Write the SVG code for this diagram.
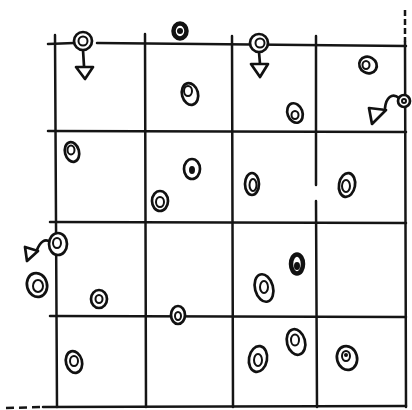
<svg xmlns="http://www.w3.org/2000/svg" width="412" height="410" viewBox="0 0 412 410">
<style>
.g{stroke:#151515;stroke-width:2.5;fill:none;stroke-linecap:round}
.d{stroke:#151515;stroke-width:2.5;fill:none;stroke-dasharray:8 5}
.o{stroke:#111;stroke-width:2.7;fill:#fff}
.i{stroke:#111;stroke-width:2;fill:none}
.k{stroke:#111;stroke-width:4.5;fill:#fff}
.a{stroke:#111;stroke-width:2.7;fill:#fff;stroke-linejoin:round}
.c{stroke:#111;stroke-width:2.7;fill:none;stroke-linecap:round}
</style>
<rect width="412" height="410" fill="#fff"/>
<g id="connectors">
<line class="g" x1="48" y1="44" x2="74" y2="43"/>
<line class="g" x1="97" y1="43" x2="406" y2="46"/>
<line class="g" x1="48" y1="131" x2="406" y2="132"/>
<line class="g" x1="50" y1="222" x2="406" y2="223"/>
<line class="g" x1="50" y1="316" x2="406" y2="317"/>
<line class="g" x1="43" y1="407" x2="406" y2="406"/>
<line class="d" x1="6" y1="408" x2="43" y2="407"/>
<line class="g" x1="55" y1="35" x2="57" y2="407"/>
<line class="g" x1="145" y1="34" x2="146" y2="407"/>
<line class="g" x1="232" y1="36" x2="233" y2="407"/>
<line class="g" x1="316" y1="36" x2="316" y2="185"/>
<line class="g" x1="316" y1="201" x2="317" y2="407"/>
<line class="g" x1="405" y1="42" x2="406" y2="407"/>
<line class="d" x1="405" y1="10" x2="405" y2="42" style="stroke-dasharray:6 3"/>
<line class="c" x1="83" y1="50" x2="84" y2="66"/>
<polygon class="a" points="76,67 93,67 85,79"/>
<line class="c" x1="259" y1="52" x2="260" y2="64"/>
<polygon class="a" points="251,64 268,64 260,77"/>
<path class="c" d="M385,108 C386,98 392,92 399,98"/>
<polygon class="a" points="369,108 372,124 386,110"/>
<path class="c" d="M37,250 C40,242 45,238 50,242"/>
<polygon class="a" points="25,247 27,261 38,251"/>
</g>
<g id="n1"><circle class="o" cx="83" cy="41" r="9"/><circle class="i" cx="83" cy="41" r="4.5"/></g>
<g id="n2"><ellipse class="k" cx="180" cy="31" rx="6.5" ry="7.5"/><circle cx="180" cy="31" r="3" fill="#111"/></g>
<g id="n3"><ellipse class="o" cx="190" cy="94" rx="8" ry="11" transform="rotate(-15 190 94)"/><ellipse class="i" cx="188" cy="91" rx="4" ry="5"/></g>
<g id="n4"><ellipse class="o" cx="72" cy="152" rx="7" ry="10" transform="rotate(-15 72 152)"/><ellipse class="i" cx="71" cy="150" rx="3.5" ry="4.5"/></g>
<g id="n5"><ellipse class="o" cx="192" cy="169" rx="8" ry="10"/><ellipse cx="192" cy="170" rx="3" ry="4" fill="#111"/></g>
<g id="n6"><ellipse class="o" cx="160" cy="201" rx="8" ry="10"/><ellipse class="i" cx="160" cy="202" rx="4" ry="5"/></g>
<g id="n7"><circle class="o" cx="259" cy="43" r="9"/><circle class="i" cx="260" cy="43" r="4.5"/></g>
<g id="n8"><ellipse class="o" cx="368" cy="65" rx="9" ry="8" transform="rotate(30 368 65)"/><ellipse class="i" cx="366" cy="65" rx="3.5" ry="4"/></g>
<g id="n9"><ellipse class="o" cx="295" cy="113" rx="7.5" ry="10" transform="rotate(-20 295 113)"/><ellipse class="i" cx="295" cy="115" rx="3.5" ry="4"/></g>
<g id="n10"><circle class="o" cx="404" cy="101" r="6"/><circle class="i" cx="404" cy="101" r="2"/></g>
<g id="n11"><ellipse class="o" cx="252" cy="184" rx="7" ry="11"/><ellipse class="i" cx="253" cy="185" rx="3.5" ry="6"/></g>
<g id="n12"><ellipse class="o" cx="347" cy="185" rx="8" ry="12" transform="rotate(10 347 185)"/><ellipse class="i" cx="346" cy="186" rx="4" ry="6"/></g>
<g id="n13"><ellipse class="o" cx="58" cy="244" rx="9" ry="11"/><ellipse class="i" cx="57" cy="243" rx="4" ry="5"/></g>
<g id="n14"><ellipse class="o" cx="37" cy="285" rx="10" ry="12" transform="rotate(-15 37 285)"/><ellipse class="i" cx="38" cy="286" rx="5" ry="6"/></g>
<g id="n15"><ellipse class="o" cx="99" cy="299" rx="8" ry="9"/><ellipse class="i" cx="99" cy="299" rx="3.5" ry="4"/></g>
<g id="n16"><ellipse class="o" cx="178" cy="315" rx="7" ry="9"/><ellipse class="i" cx="178" cy="316" rx="3" ry="4"/></g>
<g id="n17"><ellipse class="o" cx="74" cy="362" rx="8" ry="11" transform="rotate(-15 74 362)"/><ellipse class="i" cx="74" cy="361" rx="4" ry="5"/></g>
<g id="n18"><ellipse class="k" cx="297" cy="264" rx="6" ry="9.5"/><ellipse cx="297" cy="266" rx="3" ry="4" fill="#111"/></g>
<g id="n19"><ellipse class="o" cx="264" cy="288" rx="9" ry="14" transform="rotate(-15 264 288)"/><ellipse class="i" cx="264" cy="287" rx="4" ry="6"/></g>
<g id="n20"><ellipse class="o" cx="296" cy="342" rx="9" ry="13" transform="rotate(-15 296 342)"/><ellipse class="i" cx="295" cy="340" rx="4" ry="5.5"/></g>
<g id="n21"><ellipse class="o" cx="258" cy="359" rx="9" ry="13" transform="rotate(10 258 359)"/><ellipse class="i" cx="258" cy="360" rx="4" ry="6"/></g>
<g id="n22"><ellipse class="o" cx="347" cy="358" rx="10" ry="12" transform="rotate(-15 347 358)"/><ellipse class="i" cx="346" cy="356" rx="4" ry="5"/><circle cx="346" cy="355" r="2" fill="#111"/></g>
</svg>
